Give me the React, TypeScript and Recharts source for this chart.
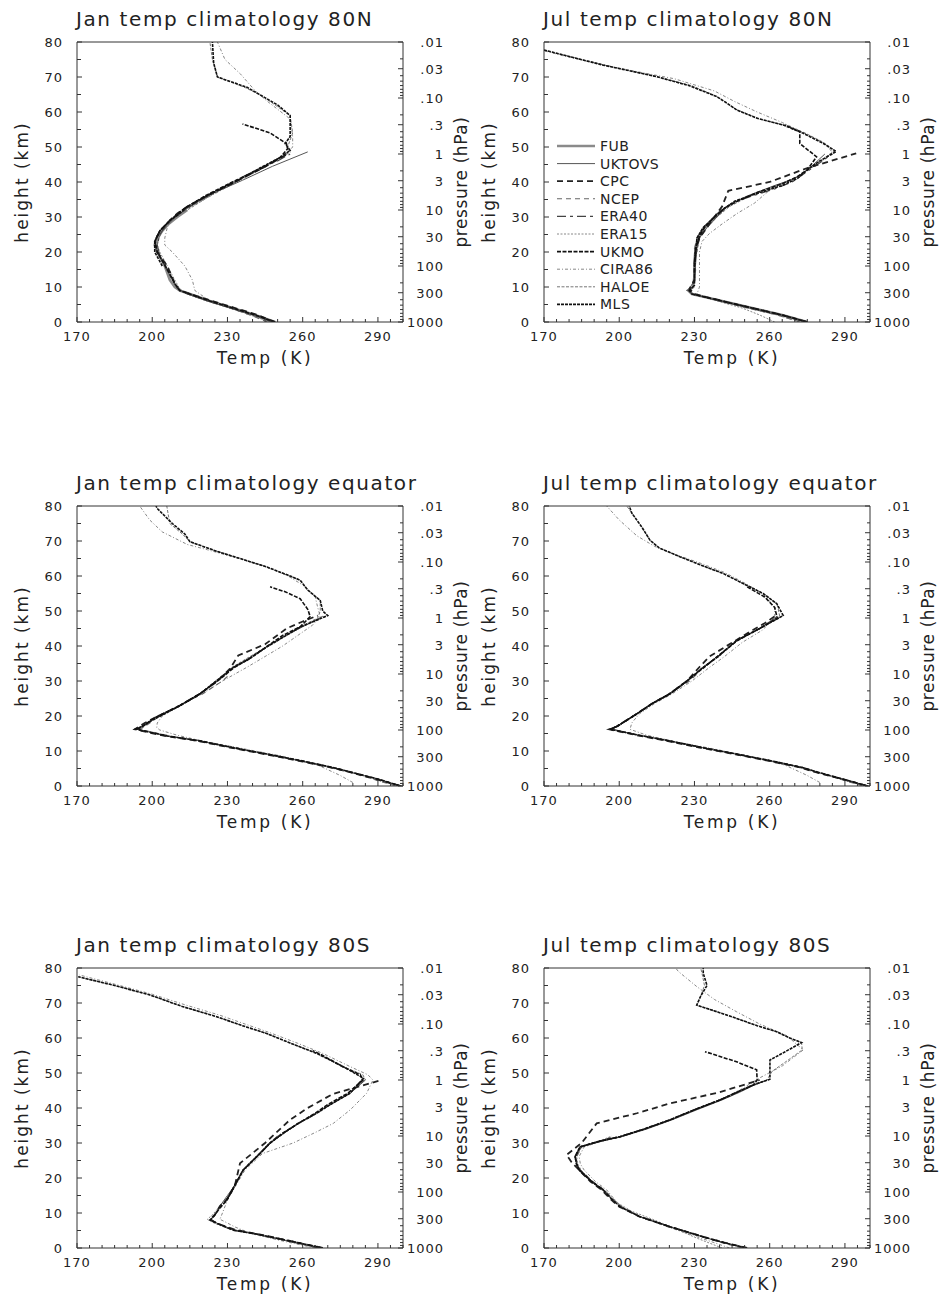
import React from 'react';
import { LineChart, Line, XAxis, YAxis } from 'recharts';

// each point is [temperature (K), height (km)]
type Pair = [number, number];

const seriesNames = ['FUB', 'UKTOVS', 'CPC', 'NCEP', 'ERA40', 'ERA15', 'UKMO', 'CIRA86', 'HALOE', 'MLS'];

const tempLabels = [170, 200, 230, 260, 290];
const heightLabels = [0, 10, 20, 30, 40, 50, 60, 70, 80];
const pressureLabels = ['1000', '300', '100', '30', '10', '3', '1', '.3', '.10', '.03', '.01'];
const pressureValues = [1000, 300, 100, 30, 10, 3, 1, 0.3, 0.1, 0.03, 0.01];

// ---------- Jan 80N ----------
const janN_FUB: Pair[] = [[249,0],[241,2],[232,4],[223,6],[215,8],[211,9],[209,10],[207,12],[205,16],[202,20],[201,22],[202,24],[204,26],[206.5,28],[210,30],[214,32]];
const janN_UKTOVS: Pair[] = [[248,0],[240,2],[231,4],[222,6],[214,8],[210,9.5],[208,12],[205,16],[202,20],[201,23],[203,26],[207,29],[211,31],[215,33],[225,37],[236,40.5],[248,44.5],[262,48.6]];
const janN_CPC: Pair[] = [[249,0],[242,2],[233,4],[224,6],[215,8],[211,9],[209,11],[206,16],[202,20],[201,23],[203,26],[207,29],[210,31],[214,33],[223,36.5],[233,40],[244,44],[254,48]];
const janN_NCEP: Pair[] = [[246,0],[239,2],[231,4],[222,6],[214,8],[210,9.5],[208,12],[205,16],[202,20],[202,23],[204,26],[207,28.5],[211,31],[213,32]];
const janN_ERA40: Pair[] = [[248,0],[241,2],[232,4],[223,6],[215,8],[211,9],[209,11],[206,15],[203,19],[202,22],[203,25],[205,27],[209,30],[213,32],[222,36],[232,40],[243,44],[250,46],[255,48]];
const janN_ERA15: Pair[] = [[247,0],[240,2],[231,4],[222,6],[214,8],[211,9.5],[209,12],[206,16],[203,20],[202,22],[203,25],[206,28],[209,30],[212,32]];
const janN_UKMO: Pair[] = [[249,0],[241,2],[232,4],[223,6],[215,8],[211,9],[209,11],[206,15],[202,20],[201,23],[203,26],[207,29],[212,32],[221,36],[232,40],[244,44],[251,47],[254,49.5],[253.5,51],[247,54],[236,56.6]];
const janN_CIRA86: Pair[] = [[247,0],[239,2],[231,4],[223,6],[217,9],[216,12],[213,16],[208,20],[205,22],[205,24],[206,27],[209,30],[213,32],[222,35.5],[231,39],[243,43.5],[252,47],[256,50],[256,53],[255,58],[246,63],[241.5,65.7],[235,71],[229,75],[226,80]];
const janN_HALOE: Pair[] = [[205,16],[202,20],[202,22],[203,25],[206,28],[209,30],[214,32],[223,36],[233,40],[243,44],[250,46.5],[255,48.5],[254,50],[256,54],[255,59],[249,62],[244,64.5],[237,67],[226,70],[224,75],[223,80]];
const janN_MLS: Pair[] = [[204,16],[201,20],[201,23],[203,26],[207,29],[211,31],[214,33],[223,36.5],[233,40],[243,44],[251,47],[255,49],[253,51],[255,53],[255,59],[250,62],[244,64.5],[238,67],[226,70],[224.5,74],[224,80]];

// ---------- Jul 80N ----------
const julN_FUB: Pair[] = [[275,0],[265,2],[253,4],[241,6],[229,8],[227.5,9],[229.5,10],[230,13],[230,17],[230.5,21],[231.5,24],[234,27],[238,30],[241,32]];
const julN_UKTOVS: Pair[] = [[274,0],[264,2],[252,4],[240,6],[229,8],[228,9.5],[230,12],[230.5,17],[231,21],[232,24],[235,27],[239,30],[243,33],[251,36],[262,39],[270,41],[276,44],[282,48]];
const julN_CPC: Pair[] = [[275,0],[265,2],[253,4],[241,6],[230,8],[228,9.5],[230,12],[230,17],[230.5,21],[232,24],[235,27],[238,30],[241,33],[243.5,37.5],[260,40],[275,44],[294.5,48.2]];
const julN_NCEP: Pair[] = [[272,0],[263,2],[251,4],[240,6],[229,8],[227,9],[229,10],[230,13],[230,17],[230,21],[231,24],[234,27],[238,30],[241,32]];
const julN_ERA40: Pair[] = [[275,0],[265,2],[253,4],[241,6],[229,8],[227.5,9],[229.5,10],[230,14],[230.5,20],[231,24],[233.5,27],[238,30],[241,32],[245,34],[253,36],[262,38],[269,40],[275,43],[279,45],[285,48]];
const julN_ERA15: Pair[] = [[262,0],[256,2],[249,4],[239,6],[230,8],[228,9],[230,11],[230.5,15],[230,20],[231,24],[234,27],[238,30],[241,32]];
const julN_UKMO: Pair[] = [[275,0],[265,2],[253,4],[241,6],[229,8],[228,9],[230,10.5],[230,16],[230.5,21],[232,24.5],[234,27],[238,30],[242,32.5],[247,34.5],[255,37],[265,39.5],[271,41.5],[275,43.5],[278.7,47.2],[272,51],[272,54.4],[266,56.3]];
const julN_CIRA86: Pair[] = [[272,0],[263,2],[251,4],[240,6],[231,8],[232,10],[232,14],[232,20],[233,23],[236,25.3],[241,28],[247,31],[254,34],[260,37.7],[267,40],[273.4,42.5],[281,46],[285,48.5],[282,51],[274,54],[265,57],[255,60],[246,63],[238,66],[222,69.5],[200,72.5],[178,76],[170,77.5]];
const julN_HALOE: Pair[] = [[231,20],[232,24],[235,27],[239,30],[244,33],[252,36],[263,39],[271,41.5],[277,44.5],[284,48],[286,49],[281,51.5],[274,54],[267,56],[256,58],[247,60.6],[244,62],[239,64.4],[229,67.5],[215,70.1],[194,73.4],[170,77.7]];
const julN_MLS: Pair[] = [[230,16],[230.5,20],[231,24],[233.5,27],[238,30],[242,32.5],[246,34.5],[254,36.5],[265,39],[271,41],[276,44],[280,46],[286.5,48.7],[281.4,51],[273.4,53.9],[265.4,56.3],[255,58.2],[246.8,60.6],[243,62.5],[238.9,64.4],[228,67.5],[214.9,70.1],[193.6,73.4],[170,77.7]];

// ---------- Jan equator ----------
const janE_UKTOVS: Pair[] = [[299,0],[290,2],[279,4],[272,5.3],[261,7],[246,9.1],[232,11],[219,12.9],[206,14.3],[194,16.2],[197,17.5],[201,19.5],[211,23],[219,26.5],[226,30],[232.5,34],[238.5,36.5],[246,40],[252,42.5],[260,45.5],[268,48.5]];
const janE_CPC: Pair[] = [[299,0],[289,2],[279,4],[271,5.3],[260,7],[245,9.1],[231,11],[218,12.9],[205,14.3],[193,16.2],[197,18],[201,19.5],[211,23],[219,26.3],[226,30],[231,33.5],[234.3,37.3],[245,40.5],[253.6,45],[260,47],[266,48.7]];
const janE_NCEP: Pair[] = [[297,0],[288,2],[278,4],[271,5.3],[260,7],[245,9.1],[232,11],[219,12.9],[207,14.3],[195,16.2],[198,17.5],[202,19.5],[211,23],[220,26.3],[228,30],[231,32]];
const janE_ERA40: Pair[] = [[299.5,0],[290,2],[279,4],[272,5.3],[261,7],[246,9.1],[232,11],[219,12.9],[206,14.3],[193,16.2],[196,17],[200.5,19],[211,22.9],[219,26.3],[225.5,30],[232.3,33.9],[238,36],[245.6,39.7],[251,42],[259,45.4],[270,48.7]];
const janE_ERA15: Pair[] = [[298,0],[289,2],[278,4],[271,5.3],[260,7],[245,9.1],[231,11],[218,12.9],[205,14.3],[194,16.2],[197,17.5],[201,19.5],[211,23],[219,26.3],[226,30],[230,32]];
const janE_UKMO: Pair[] = [[299,0],[290,2],[279,4],[272,5.3],[261,7],[246,9.1],[232,11],[219,12.9],[206,14.3],[194,16.2],[197,17.5],[201,19.5],[211,23],[219,26.3],[226,30],[233,34],[239,36.5],[246,40],[252,43],[259,45.5],[263,48.4],[262,50.5],[259,53.5],[253,55.5],[247,56.9]];
const janE_CIRA86: Pair[] = [[280,1],[275,3],[266,6],[252,8.5],[236,10.7],[221,12.7],[210,14.5],[203,16],[201.8,16.7],[202,18],[204,20],[211,23],[220,26.3],[228,30],[237.7,33.9],[245,37],[252,40],[259,43.5],[264,46],[267,48.5],[266,51],[265,54],[261,57],[253,60.5],[244,63],[232,65.5],[222,67.5],[214,69],[204,72.6],[199,76],[195,80]];
const janE_HALOE: Pair[] = [[196,16.5],[200,19],[211,23],[219,26.3],[226,30],[232,34],[239,37],[246,40],[252,42.5],[259,45.5],[266,48],[267,50],[267,53],[262,56],[259,58.8],[251,61],[245.6,62.6],[235,65],[226,67],[215,69.8],[212,72],[207,75],[205.8,80]];
const janE_MLS: Pair[] = [[193,16.2],[196,17],[200.5,19],[211,22.9],[219,26.3],[225.5,30],[232.3,33.9],[238,36],[245.6,39.7],[251,42],[259,45.4],[270,48.7],[268,50],[267,53],[262,56],[259,58.8],[255,60],[245.6,62.6],[235,65],[226,67],[215,69.8],[213,72],[208,75],[202,79.3],[201.5,80]];

// ---------- Jul equator ----------
const julE_UKTOVS: Pair[] = [[299,0],[289,2],[279,4],[273,5.3],[262,7],[247,9.1],[233,11],[220,12.9],[208,14.5],[197,16.2],[199.5,17.2],[207,20.6],[213,23.5],[220,26.3],[227,30],[233.5,34],[240,37.5],[247,41.5],[256,45],[263,48.5]];
const julE_CPC: Pair[] = [[299,0],[289,2],[278,4],[272,5.3],[261,7],[246,9.1],[232,11],[219,12.9],[207,14.5],[196,16.2],[199,17],[207,20.6],[213,23.5],[220,26.3],[227,30],[232,34],[236,37],[250.8,43.5],[258,46.5],[262,48.5]];
const julE_NCEP: Pair[] = [[297,0],[288,2],[278,4],[272,5.3],[261,7],[246,9.1],[233,11],[220,12.9],[208,14.5],[197.5,16.2],[200,17.3],[207,20.6],[213,23.5],[220,26.3],[228,30],[231,32]];
const julE_ERA40: Pair[] = [[299.3,0],[289,2],[279,4],[273.4,5.3],[262,7],[246.8,9.1],[233,11],[220.2,12.9],[208,14.5],[196.3,16.2],[199,17],[207,20.6],[213,23.5],[220.2,26.3],[227,30],[233.5,33.9],[239.5,37],[246.8,41.6],[256,45],[265.4,48.7]];
const julE_ERA15: Pair[] = [[298,0],[288,2],[278,4],[272,5.3],[261,7],[246,9.1],[232,11],[219,12.9],[207,14.5],[196,16.2],[199,17],[207,20.6],[213,23.5],[220,26.3],[227,30],[230,32]];
const julE_UKMO: Pair[] = [[299,0],[289,2],[279,4],[273,5.3],[262,7],[247,9.1],[233,11],[220,12.9],[208,14.5],[196.5,16.2],[199,17],[207,20.6],[213,23.5],[220,26.3],[227,30],[234,34],[240,37.5],[247,41.5],[256,45],[263,48],[262,51],[258,54],[251,56.9]];
const julE_CIRA86: Pair[] = [[280,1],[275,3],[266,6],[252,8.5],[237,10.7],[222,12.7],[211,14.5],[204.3,16.2],[205,18],[208,20.6],[214,23.5],[221,26.3],[229,30],[236,33.9],[242,37],[249,41],[257,44.5],[262,48],[262,51],[258,54.5],[250,58],[242,61],[233,63.5],[223,66],[214,68.5],[207,71.5],[200,76],[195,80]];
const julE_HALOE: Pair[] = [[197,16.5],[200,17.5],[207,20.6],[213,23.5],[220,26.3],[227,30],[233.5,33.9],[239.5,37],[247,41.6],[256,45],[264,48.5],[263,52],[257.4,55],[249,58],[241.5,60.7],[233,63],[224.2,65.5],[216,68],[212.3,70.2],[208,75],[203,80]];
const julE_MLS: Pair[] = [[196.3,16.2],[199,17],[207,20.6],[213,23.5],[220.2,26.3],[227,30],[233.5,33.9],[239.5,37],[246.8,41.6],[256,45],[265.4,48.7],[262.8,52.1],[257.4,55],[249,58],[241.5,60.7],[233,63],[224.2,65.5],[216,68],[212.3,70.2],[209,74],[205,78],[204,80]];

// ---------- Jan 80S ----------
const janS_UKTOVS: Pair[] = [[267,0],[254,2],[241,4],[232,5.3],[226,7],[223.5,8.2],[225,9.5],[227,12],[230,15],[233,18],[236,22],[240,25],[244,28],[248,30.5],[253,33],[259,36],[266,38.8],[272,41.3],[279,44.3],[285,48]];
const janS_CPC: Pair[] = [[268,0],[255,2],[242,4],[233,5.2],[226,7],[223,8.2],[225,9.5],[227,12],[230,14],[233,18],[235,24.2],[245,30],[254.9,36.6],[262,40],[272,44],[291.5,48]];
const janS_NCEP: Pair[] = [[266,0],[254,2],[241,4],[232,5.1],[226,7],[223,8],[224.5,9],[226.5,11],[229.7,13.7],[233,18],[236.3,22.3],[240,25],[243,27],[247,30],[250,32]];
const janS_ERA40: Pair[] = [[268,0],[255,2],[241.5,4],[232.3,5.1],[226,7],[223,8],[224.5,9],[226.5,11],[229.7,13.7],[233,18],[236.3,22.3],[243,27],[247,30],[252.3,32.8],[258,35.5],[265.6,38.5],[271,41],[278.8,44.2],[284.2,48]];
const janS_ERA15: Pair[] = [[267,0],[254,2],[241,4],[232,5.1],[225,7],[222,8.2],[224,9.5],[226.5,11.5],[229.5,14],[233,18],[236,22.3],[242.5,27],[246.5,30],[250,32]];
const janS_UKMO: Pair[] = [[268,0],[255,2],[241.5,4],[232.3,5.1],[226,7],[223,8],[224.5,9],[226.5,11],[229.7,13.7],[233,18],[236.3,22.3],[243,27],[247,30],[252,32.8],[258,35.5],[265,38.5],[270,41],[278,44.2],[284,48],[283,49.5],[276,51.8],[268,55],[264,56.4]];
const janS_CIRA86: Pair[] = [[265,0],[252,2],[240,4],[233,6],[229,7.5],[227,8.2],[228,10],[230,13.7],[233.5,18],[237,22.3],[244,27],[256.2,30],[265,33],[272.2,35.6],[279,39.5],[285.5,44.2],[288,48],[286,49.5],[279,51.8],[268,55.6],[258,58.5],[247,61.5],[237,64],[227,66.5],[213,69.5],[200,72.5],[186,75.2],[171,78]];
const janS_HALOE: Pair[] = [[230,14],[233,18],[236.3,22.3],[243,27],[247,30],[252.3,32.8],[258,35.5],[265.6,38.5],[271,41],[279,44.2],[285,48],[284,49.5],[276.2,51.8],[265.6,55.6],[257,58],[245.6,61.3],[236,63.5],[225.7,66.1],[212,69],[199.1,72.3],[185,75],[170.5,77.5]];
const janS_MLS: Pair[] = [[229.7,13.7],[233,18],[236.3,22.3],[243,27],[247,30],[252.3,32.8],[258,35.5],[265.6,38.5],[271,41],[278.8,44.2],[284.2,48.5],[276.2,51.8],[265.6,55.6],[257,58],[245.6,61.3],[236,63.5],[225.7,66.1],[212,69],[199.1,72.3],[185,75],[170.5,77.5]];

// ---------- Jul 80S ----------
const julS_UKTOVS: Pair[] = [[250,0],[242,1.5],[233,3.2],[220,6.1],[208,9],[200.5,11.8],[197,14],[193.5,16.6],[189,19],[184.5,22.3],[183,24],[182.5,26.1],[185,28.9],[193,30.5],[201,31.8],[211,34],[221,36.6],[231,39.5],[241,42.3],[248,44.5],[254,46.6],[259,48]];
const julS_CPC: Pair[] = [[251,0],[242,1.5],[233.5,3.2],[220,6.1],[208,9],[200,11.8],[196.5,14],[193,16.6],[188.5,19],[184,22.3],[181,24.5],[179,26.6],[185,30],[191,35.6],[207,38.5],[220.2,41.3],[240,44.5],[256,48]];
const julS_NCEP: Pair[] = [[249,0],[241,1.5],[233,3.2],[220,6.1],[208.5,9],[201,11.8],[197.5,14],[194,16.6],[189.5,19],[184.5,22.3],[183,24],[183,26.1],[185,28.9],[192.5,30.5],[198,32]];
const julS_ERA40: Pair[] = [[250.8,0],[242,1.5],[233.5,3.2],[220.2,6.1],[208,9],[200.3,11.8],[197,14],[193.6,16.6],[189,19],[184,22.3],[183,24],[182.4,26.1],[184.4,28.9],[192,30.5],[200.3,31.8],[210,34],[220.2,36.6],[230,39.5],[240.2,42.3],[247,44.5],[253.5,46.6],[260,48.2]];
const julS_ERA15: Pair[] = [[241,0],[231,2.8],[224,5],[214,8],[205,10.5],[199,13],[195,16],[190,18.5],[185,22],[183.5,24],[183,26.1],[185,28.9],[192,30.5],[197,32]];
const julS_UKMO: Pair[] = [[250.8,0],[242,1.5],[233.5,3.2],[220.2,6.1],[208,9],[200.3,11.8],[197,14],[193.6,16.6],[189,19],[184,22.3],[183,24],[182.4,26.1],[184.4,28.9],[192,30.5],[200.3,31.8],[210,34],[220.2,36.6],[230,39.5],[240.2,42.3],[247,44.5],[253.5,46.6],[255,48],[254.8,50.9],[246.8,53.2],[234.2,56.1]];
const julS_CIRA86: Pair[] = [[244,0],[238,1.5],[231,3.2],[219,6.1],[208,9],[201,11.8],[198,14],[195,16.6],[190.5,19],[186,22.3],[184.5,24],[184,26.1],[186,28.9],[193,30.5],[201,32],[212,34.5],[222,37],[232,40],[242,43],[249,45.5],[256,48.6],[265,52],[273.4,56.6],[266.7,60.7],[256,64],[246.8,67.5],[238,71],[230.9,74.7],[223.6,79],[222.5,80]];
const julS_HALOE: Pair[] = [[193,16.6],[189,19],[184,22.3],[183,24],[182.4,26.1],[184.4,28.9],[192,30.5],[200.3,31.8],[210,34],[220.2,36.6],[230,39.5],[240.2,42.3],[247,44.5],[253.5,46.6],[258.9,48],[261,50.5],[266,53],[273,56.6],[272.7,58.7],[268,60],[262.8,61.8],[255,63.5],[246.8,65.6],[239,67.5],[230.9,69.4],[232.5,72],[234,75],[233,78.5],[232.5,80]];
const julS_MLS: Pair[] = [[193.6,16.6],[189,19],[184,22.3],[183,24],[182.4,26.1],[184.4,28.9],[192,30.5],[200.3,31.8],[210,34],[220.2,36.6],[230,39.5],[240.2,42.3],[247,44.5],[253.5,46.6],[260.1,48.2],[260.1,50],[260.1,53.7],[266,56],[272.7,58.7],[268,60],[262.8,61.8],[255,63.5],[246.8,65.6],[239,67.5],[230.9,69.4],[232.5,72],[235,75],[233.5,78.5],[233.5,80]];

const panels = [
  { title: 'Jan temp climatology 80N', col: 0, row: 0, legend: false,
    series: { FUB: janN_FUB, UKTOVS: janN_UKTOVS, CPC: janN_CPC, NCEP: janN_NCEP, ERA40: janN_ERA40, ERA15: janN_ERA15, UKMO: janN_UKMO, CIRA86: janN_CIRA86, HALOE: janN_HALOE, MLS: janN_MLS } },
  { title: 'Jul temp climatology 80N', col: 1, row: 0, legend: true,
    series: { FUB: julN_FUB, UKTOVS: julN_UKTOVS, CPC: julN_CPC, NCEP: julN_NCEP, ERA40: julN_ERA40, ERA15: julN_ERA15, UKMO: julN_UKMO, CIRA86: julN_CIRA86, HALOE: julN_HALOE, MLS: julN_MLS } },
  { title: 'Jan temp climatology equator', col: 0, row: 1, legend: false,
    series: { UKTOVS: janE_UKTOVS, CPC: janE_CPC, NCEP: janE_NCEP, ERA40: janE_ERA40, ERA15: janE_ERA15, UKMO: janE_UKMO, CIRA86: janE_CIRA86, HALOE: janE_HALOE, MLS: janE_MLS } },
  { title: 'Jul temp climatology equator', col: 1, row: 1, legend: false,
    series: { UKTOVS: julE_UKTOVS, CPC: julE_CPC, NCEP: julE_NCEP, ERA40: julE_ERA40, ERA15: julE_ERA15, UKMO: julE_UKMO, CIRA86: julE_CIRA86, HALOE: julE_HALOE, MLS: julE_MLS } },
  { title: 'Jan temp climatology 80S', col: 0, row: 2, legend: false,
    series: { UKTOVS: janS_UKTOVS, CPC: janS_CPC, NCEP: janS_NCEP, ERA40: janS_ERA40, ERA15: janS_ERA15, UKMO: janS_UKMO, CIRA86: janS_CIRA86, HALOE: janS_HALOE, MLS: janS_MLS } },
  { title: 'Jul temp climatology 80S', col: 1, row: 2, legend: false,
    series: { UKTOVS: julS_UKTOVS, CPC: julS_CPC, NCEP: julS_NCEP, ERA40: julS_ERA40, ERA15: julS_ERA15, UKMO: julS_UKMO, CIRA86: julS_CIRA86, HALOE: julS_HALOE, MLS: julS_MLS } },
];

// line look per dataset
const lineStyle: Record<string, { stroke: string; width: number; dash?: string }> = {
  FUB: { stroke: '#8a8a8a', width: 2.6 },
  UKTOVS: { stroke: '#555', width: 1 },
  CPC: { stroke: '#222', width: 1.8, dash: '6 4' },
  NCEP: { stroke: '#666', width: 1.1, dash: '5 4' },
  ERA40: { stroke: '#444', width: 1.1, dash: '9 4 3 4' },
  ERA15: { stroke: '#888', width: 1, dash: '2 1.5' },
  UKMO: { stroke: '#111', width: 1.6, dash: '4 1.5' },
  CIRA86: { stroke: '#888', width: 1, dash: '3 2 1 2' },
  HALOE: { stroke: '#777', width: 1, dash: '3 1.5' },
  MLS: { stroke: '#111', width: 1.6, dash: '3 1' },
};
const drawOrder = ['FUB', 'ERA15', 'CIRA86', 'HALOE', 'NCEP', 'UKTOVS', 'ERA40', 'CPC', 'UKMO', 'MLS'];

const H_SCALE = 80 / Math.log(1e5);
const zOfP = (p: number) => H_SCALE * Math.log(1000 / p);

const tempTicks = Array.from({ length: 27 }, (_, i) => 170 + i * 5);
const heightTicks = Array.from({ length: 17 }, (_, i) => i * 5);
const pressureMinor: number[] = [1000];
[-2, -1, 0, 1, 2].forEach((e) => {
  for (let k = 1; k <= 9; k++) pressureMinor.push(k * Math.pow(10, e));
});
const pressureTicks = pressureMinor.map(zOfP);

const W = 469;
const HGT = 380;
// plot frame: x 77..403, y 42..322 inside each chart (axes take 1px each)
const MARGIN = { top: 41, right: 65, bottom: 57, left: 76 };
const FRAME = '#333';
const TXT = '#222';
const FONT = 'DejaVu Sans';

const toPts = (arr: Pair[]) => arr.map(([t, z]) => ({ t, z }));

const BottomTick = (props: any) => {
  const { x, y, payload } = props;
  const major = tempLabels.includes(payload.value);
  return (
    <g>
      <line x1={x} x2={x} y1={y} y2={y - (major ? 5 : 3)} stroke={FRAME} />
      {major && (
        <text x={x} y={y + 19} textAnchor="middle" fontSize={13} fill={TXT} fontFamily={FONT} letterSpacing={1}>
          {payload.value}
        </text>
      )}
    </g>
  );
};

const TopTick = (props: any) => {
  const { x, y, payload } = props;
  const major = tempLabels.includes(payload.value);
  return <line x1={x} x2={x} y1={y} y2={y + (major ? 5 : 3)} stroke={FRAME} />;
};

const LeftTick = (props: any) => {
  const { x, y, payload } = props;
  const major = heightLabels.includes(payload.value);
  return (
    <g>
      <line x1={x} x2={x + (major ? 5 : 4)} y1={y} y2={y} stroke={FRAME} />
      {major && (
        <text x={x - 14} y={y + 5} textAnchor="end" fontSize={13} fill={TXT} fontFamily={FONT} letterSpacing={1}>
          {payload.value}
        </text>
      )}
    </g>
  );
};

const RightTick = (props: any) => {
  const { x, y, payload } = props;
  const idx = pressureValues.findIndex((p) => Math.abs(zOfP(p) - payload.value) < 1e-6);
  return (
    <g>
      <line x1={x} x2={x - (idx >= 0 ? 5 : 3)} y1={y} y2={y} stroke={FRAME} />
      {idx >= 0 && (
        <text x={x + 41} y={y + 5} textAnchor="end" fontSize={13} fill={TXT} fontFamily={FONT} letterSpacing={1}>
          {pressureLabels[idx]}
        </text>
      )}
    </g>
  );
};

function Legend() {
  return (
    <svg style={{ position: 'absolute', left: 0, top: 0 }} width={W} height={HGT}>
      {seriesNames.map((name, i) => {
        const s = lineStyle[name];
        const y = 146 + i * 17.6;
        return (
          <g key={name}>
            <line x1={90} x2={128} y1={y} y2={y} stroke={s.stroke} strokeWidth={s.width} strokeDasharray={s.dash} />
            <text x={133} y={y + 5} fontSize={14} fill={TXT} fontFamily={FONT} letterSpacing={0.5}>
              {name}
            </text>
          </g>
        );
      })}
    </svg>
  );
}

function Panel({ panel }: { panel: (typeof panels)[number] }) {
  const left = panel.col === 0 ? 0 : 467;
  const top = [0, 464, 926][panel.row];
  const series = panel.series as Record<string, Pair[]>;
  return (
    <div style={{ position: 'absolute', left, top, width: W, height: HGT }}>
      <div style={{ position: 'absolute', left: 76, top: 8, fontSize: 20, lineHeight: '22px', letterSpacing: 1.6, color: TXT, whiteSpace: 'nowrap' }}>
        {panel.title}
      </div>
      <LineChart width={W} height={HGT} margin={MARGIN}>
        <XAxis xAxisId={0} type="number" dataKey="t" domain={[170, 300]} allowDataOverflow ticks={tempTicks} interval={0}
          height={1} tickSize={0} tickMargin={0} tickLine={false} axisLine={{ stroke: FRAME }} tick={BottomTick} />
        <XAxis xAxisId="top" orientation="top" type="number" domain={[170, 300]} allowDataOverflow ticks={tempTicks} interval={0}
          height={1} tickSize={0} tickMargin={0} tickLine={false} axisLine={{ stroke: FRAME }} tick={TopTick} />
        <YAxis yAxisId={0} type="number" domain={[0, 80]} allowDataOverflow ticks={heightTicks} interval={0}
          width={1} tickSize={0} tickMargin={0} tickLine={false} axisLine={{ stroke: FRAME }} tick={LeftTick} />
        <YAxis yAxisId="p" orientation="right" type="number" domain={[0, 80]} allowDataOverflow ticks={pressureTicks} interval={0}
          width={1} tickSize={0} tickMargin={0} tickLine={false} axisLine={{ stroke: FRAME }} tick={RightTick} />
        {drawOrder.filter((n) => series[n]).map((n) => {
          const s = lineStyle[n];
          return (
            <Line key={n} name={n} data={toPts(series[n])} dataKey="z" type="linear" stroke={s.stroke}
              strokeWidth={s.width} strokeDasharray={s.dash} dot={false} activeDot={false} isAnimationActive={false} />
          );
        })}
      </LineChart>
      {panel.legend && <Legend />}
      <div style={{ position: 'absolute', left: 265, top: 348, transform: 'translateX(-50%)', fontSize: 17, lineHeight: '20px', letterSpacing: 2.7, color: TXT, whiteSpace: 'nowrap' }}>
        Temp (K)
      </div>
      <div style={{ position: 'absolute', left: 22, top: 182, transform: 'translate(-50%, -50%) rotate(-90deg)', fontSize: 17, lineHeight: '20px', letterSpacing: 2, color: TXT, whiteSpace: 'nowrap' }}>
        height (km)
      </div>
      <div style={{ position: 'absolute', left: 461, top: 182, transform: 'translate(-50%, -50%) rotate(-90deg)', fontSize: 17, lineHeight: '20px', letterSpacing: 0.6, color: TXT, whiteSpace: 'nowrap' }}>
        pressure (hPa)
      </div>
    </div>
  );
}

export default function App() {
  return (
    <div style={{ position: 'absolute', left: 0, top: 0, width: 939, height: 1299, background: '#fff', fontFamily: FONT, overflow: 'hidden' }}>
      {panels.map((p) => (
        <Panel key={p.title} panel={p} />
      ))}
    </div>
  );
}
